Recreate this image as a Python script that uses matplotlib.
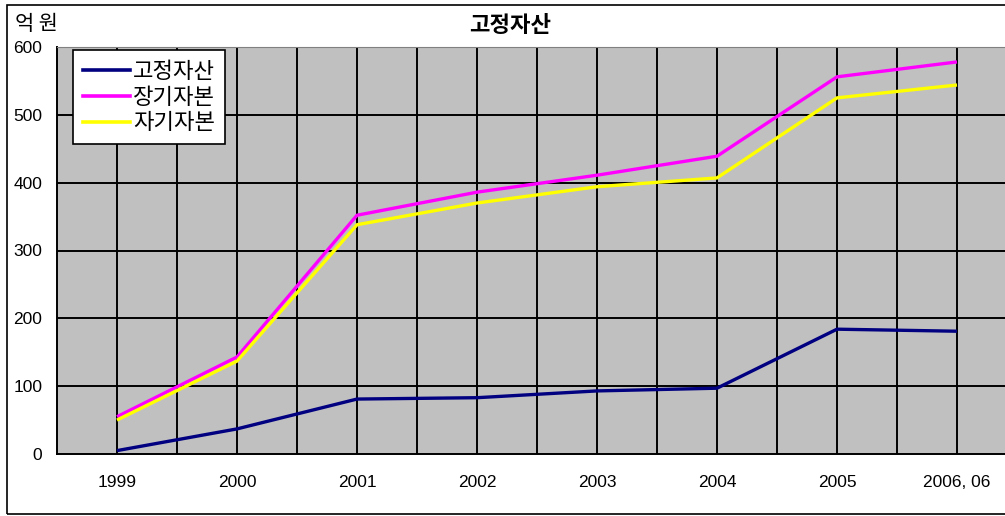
import numpy as np
import matplotlib.pyplot as plt
from matplotlib.patches import Rectangle
from matplotlib.lines import Line2D

plt.rcParams['font.family'] = ['Noto Sans CJK KR', 'DejaVu Sans']

years = ["1999", "2000", "2001", "2002", "2003", "2004", "2005", "2006.06"]
fixed_assets = [5, 37, 81, 83, 93, 97, 184, 181]
long_term_capital = [55, 143, 352, 386, 411, 439, 556, 578]
equity = [50, 137, 338, 370, 394, 407, 525, 544]

series_names = ["고정자산", "장기자본", "자기자본"]
series_colors = ["#000080", "#FF00FF", "#FFFF00"]

W, H = 1005, 516
fig = plt.figure(figsize=(W / 100, H / 100), dpi=100)

# outer chart frame (right side runs off the canvas)
fig.patches.append(Rectangle((7 / W, 2 / H), 1.2, 509 / H, transform=fig.transFigure,
                             fill=False, edgecolor="black", linewidth=1.2))

ax = fig.add_axes([57 / W, 62 / H, 960 / W, 407 / H])
ax.set_facecolor("#C0C0C0")

x = np.arange(len(years))
for vals, name, col in zip([fixed_assets, long_term_capital, equity], series_names, series_colors):
    ax.plot(x, vals, color=col, linewidth=2.4, label=name, zorder=3, solid_capstyle="butt")

ax.set_xlim(-0.5, len(years) - 0.5)
ax.set_ylim(0, 600)
ax.set_yticks(np.arange(0, 601, 100))
ax.set_xticks(x)
ax.set_xticklabels([y.replace(".", ", ") for y in years], fontsize=12.5, family="Liberation Sans")
ax.tick_params(axis="y", labelsize=12.5, length=0, pad=10.5)
ax.tick_params(axis="x", length=0, pad=15)
for lab in ax.get_yticklabels():
    lab.set_family("Liberation Sans")

for v in np.arange(0, len(years) - 0.5, 0.5):
    ax.axvline(v, color="black", linewidth=1.4, zorder=1)
for v in range(100, 600, 100):
    ax.axhline(v, color="black", linewidth=1.4, zorder=1)

ax.spines["left"].set_color("black")
ax.spines["bottom"].set_color("black")
ax.spines["left"].set_linewidth(1.4)
ax.spines["bottom"].set_linewidth(1.4)
ax.spines["top"].set_color("#808080")
ax.spines["right"].set_visible(False)

fig.text(510 / W, 1 - 25 / H, "고정자산", ha="center", va="center", fontsize=16, fontweight="bold")
fig.text(15 / W, 1 - 24 / H, "억 원", ha="left", va="center", fontsize=15)

handles = [Line2D([], [], color=c, linewidth=2.6) for c in series_colors]
leg = ax.legend(handles, series_names, loc="upper left", bbox_to_anchor=(16 / 960, 1 - 3 / 407),
                fontsize=16, frameon=True, fancybox=False, framealpha=1, edgecolor="black",
                handlelength=2.1, handletextpad=0.15, borderpad=0.45, labelspacing=0.12,
                borderaxespad=0)
leg.get_frame().set_linewidth(1.2)
leg.set_zorder(5)

fig.savefig("out.png", dpi=100)
